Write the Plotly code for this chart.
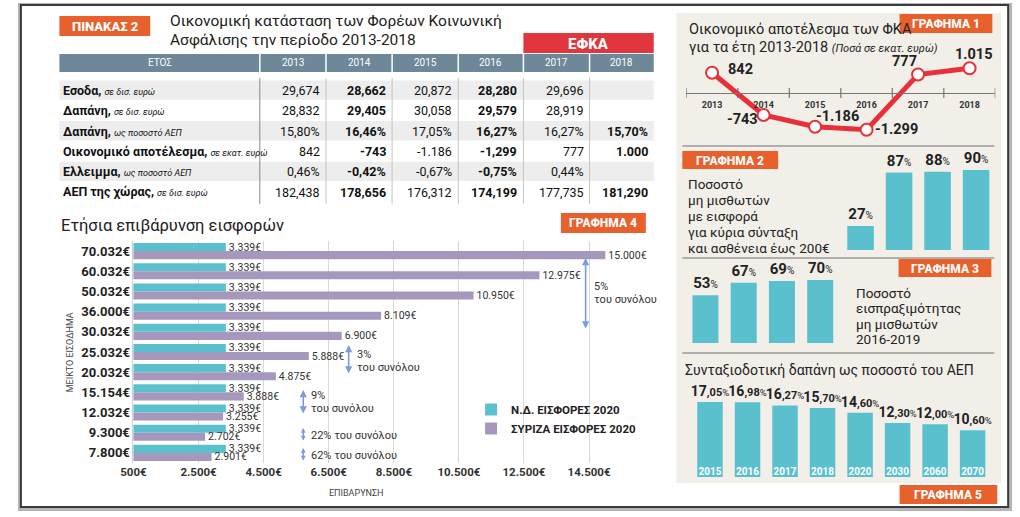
import plotly.graph_objects as go

W, H = 1020, 517
FONT = "Roboto"

# ---------------- DATA ----------------
table_years = ["2013", "2014", "2015", "2016", "2017", "2018"]
bold_years = ["2014", "2016", "2018"]
row_titles = ["Εσοδα,", "Δαπάνη,", "Δαπάνη,", "Οικονομικό αποτέλεσμα,", "Ελλειμμα,", "ΑΕΠ της χώρας,"]
row_units = ["σε δισ. ευρώ", "σε δισ. ευρώ", "ως ποσοστό ΑΕΠ", "σε εκατ. ευρώ", "ως ποσοστό ΑΕΠ", "σε δισ. ευρώ"]
row_esoda = ["29,674", "28,662", "20,872", "28,280", "29,696", ""]
row_dapani = ["28,832", "29,405", "30,058", "29,579", "28,919", ""]
row_dapani_aep = ["15,80%", "16,46%", "17,05%", "16,27%", "16,27%", "15,70%"]
row_apotelesma = ["842", "-743", "-1.186", "-1,299", "777", "1.000"]
row_elleimma = ["0,46%", "-0,42%", "-0,67%", "-0,75%", "0,44%", ""]
row_aep = ["182,438", "178,656", "176,312", "174,199", "177,735", "181,290"]

income_cats = ["70.032€", "60.032€", "50.032€", "36.000€", "30.032€", "25.032€",
               "20.032€", "15.154€", "12.032€", "9.300€", "7.800€"]
nd_values = [3339, 3339, 3339, 3339, 3339, 3339, 3339, 3339, 3339, 3339, 3339]
syriza_values = [15000, 12975, 10950, 8109, 6900, 5888, 4875, 3888, 3255, 2702, 2901]
g4_ticks = [500, 2500, 4500, 6500, 8500, 10500, 12500, 14500]

g1_years = [2013, 2014, 2015, 2016, 2017, 2018]
g1_values = [842, -743, -1186, -1299, 777, 1015]
g1_labels = ["842", "-743", "-1.186", "-1.299", "777", "1.015"]

g2_cats = ["2016", "2017", "2018", "2019"]
g2_values = [27, 87, 88, 90]
g3_cats = ["2016", "2017", "2018", "2019"]
g3_values = [53, 67, 69, 70]

g5_years = ["2015", "2016", "2017", "2018", "2020", "2030", "2060", "2070"]
g5_values = [17.05, 16.98, 16.27, 15.70, 14.60, 12.30, 12.00, 10.60]

# ---------------- COLOURS ----------------
ORANGE = "#E8612C"
RED = "#E2363F"
HEAD = "#6E8799"
TEAL = "#5BC0CE"
PURPLE = "#A698BC"
BEIGE = "#F2EFE9"
LINE_RED = "#E8303A"
ARROW = "#7D9BDB"


def X(px):
    return px / W


def Y(py):
    return 1 - py / H


shapes = []
annotations = []


def rect(x0, y0, x1, y1, fill, line=None, lw=0):
    shapes.append(dict(type="rect", xref="paper", yref="paper", layer="below",
                       x0=X(x0), x1=X(x1), y0=Y(y1), y1=Y(y0), fillcolor=fill,
                       line=dict(width=lw, color=line or fill)))


def hline(x0, x1, y, color, lw=1):
    shapes.append(dict(type="line", xref="paper", yref="paper", layer="below",
                       x0=X(x0), x1=X(x1), y0=Y(y), y1=Y(y), line=dict(color=color, width=lw)))


def vline(x, y0, y1, color, lw=1):
    shapes.append(dict(type="line", xref="paper", yref="paper", layer="below",
                       x0=X(x), x1=X(x), y0=Y(y0), y1=Y(y1), line=dict(color=color, width=lw)))


def text(px, py, s, size=12, color="#222", xanchor="left", weight=None, angle=0):
    f = dict(size=size, color=color, family=FONT)
    if weight:
        f["weight"] = weight
    annotations.append(dict(xref="paper", yref="paper", x=X(px), y=Y(py), text=s,
                            showarrow=False, xanchor=xanchor, yanchor="middle",
                            font=f, textangle=angle, borderpad=0))


def badge(x0, y0, x1, y1, label, fill=ORANGE, size=12):
    rect(x0, y0, x1, y1, fill)
    text((x0 + x1) / 2, (y0 + y1) / 2 + 0.5, label, size=size, color="white",
         xanchor="center", weight=800)


def darrow(x, y_top, y_bot, size=0.9):
    annotations.append(dict(xref="paper", yref="paper", x=X(x), y=Y(y_top), ax=0,
                            ay=y_bot - y_top, text="", showarrow=True, arrowhead=2,
                            arrowside="end+start", arrowsize=size, arrowwidth=1.6,
                            arrowcolor=ARROW, standoff=0, startstandoff=0))


# ---------------- FRAME ----------------
rect(5, 3, 1012, 511, "#B5B5B5")
rect(8, 5, 1008, 507, "white", line="#3A3A3A", lw=2)

# ---------------- TABLE ----------------
badge(47, 16, 139, 36, "ΠΙΝΑΚΑΣ 2", size=13)
text(158, 21, "Οικονομική κατάσταση των Φορέων Κοινωνική", size=15.5)
text(158, 40, "Ασφάλισης την περίοδο 2013-2018", size=15.5)
badge(517, 33, 649, 53, "ΕΦΚΑ", fill=RED, size=15)

col_edges = [47, 250, 317, 384, 451, 517, 584, 649]
rect(col_edges[0], 54, col_edges[-1], 72, HEAD)
text((col_edges[0] + col_edges[1]) / 2, 63, "ΕΤΟΣ", size=10, color="white", xanchor="center")
for i, yr in enumerate(table_years):
    text((col_edges[i + 1] + col_edges[i + 2]) / 2, 63, yr, size=10, color="white", xanchor="center")
for xe in col_edges[1:-1]:
    vline(xe, 54, 72, "white", 1.5)

rows = [row_esoda, row_dapani, row_dapani_aep, row_apotelesma, row_elleimma, row_aep]
row_top = 80
row_h = 20.3
for r, vals in enumerate(rows):
    y0 = row_top + r * row_h
    yc = y0 + row_h / 2 + 0.5
    if r % 2 == 0:
        rect(col_edges[0], y0 + 0.5, col_edges[-1], y0 + row_h - 0.5, "#EDEDED")
    text(50, yc, f"<b>{row_titles[r]}</b> <i><span style='font-size:9px'>{row_units[r]}</span></i>",
         size=12.5, color="#111")
    for i, v in enumerate(vals):
        if not v:
            continue
        s = f"<b>{v}</b>" if table_years[i] in bold_years else v
        text(col_edges[i + 2] - 5, yc, s, size=12.5, color="#111", xanchor="right")
vline(col_edges[1], 78, 204, "#8A8A8A", 1)
for xe in col_edges[2:-1]:
    vline(xe, 78, 204, "#C4C4C4", 1)

# ---------------- GRAPH 4 ----------------
text(48, 225, "Ετήσια επιβάρυνση εισφορών", size=16.5)
badge(555, 213, 641, 233, "ΓΡΑΦΗΜΑ 4")
text(58, 352, "ΜΕΙΚΤΟ ΕΙΣΟΔΗΜΑ", size=9, color="#444", xanchor="center", angle=-90)
text(348, 493, "ΕΠΙΒΑΡΥΝΣΗ", size=9, color="#444", xanchor="center")


def eur(v):
    return f"{v:,}".replace(",", ".") + "€"


darrow(580, 258, 330)
text(587, 286, "5%", size=11, color="#333")
text(587, 299, "του συνόλου", size=11, color="#333")
darrow(340, 345, 375)
text(347, 354, "3%", size=11, color="#333")
text(347, 367, "του συνόλου", size=11, color="#333")
darrow(294, 390, 415)
text(301, 395, "9%", size=11, color="#333")
text(301, 408, "του συνόλου", size=11, color="#333")
darrow(294, 428, 442, size=0.6)
text(301, 435, "22% του συνόλου", size=11, color="#333")
darrow(294, 448, 462, size=0.6)
text(301, 455, "62% του συνόλου", size=11, color="#333")

# ---------------- RIGHT PANEL ----------------
rect(672, 13, 1001, 483, BEIGE)
hline(678, 994, 146, "#9A9A9A", 1.5)
hline(678, 994, 258, "#9A9A9A", 1.5)
hline(678, 994, 353, "#9A9A9A", 1.5)

badge(898, 14, 992, 33, "ΓΡΑΦΗΜΑ 1")
text(684, 29, "Οικονομικό αποτέλεσμα των ΦΚΑ", size=14.5)
text(684, 47, "για τα έτη 2013-2018 <i><span style='font-size:11px'>(Ποσά σε εκατ. ευρώ)</span></i>", size=14.5)

badge(678, 151, 775, 169, "ΓΡΑΦΗΜΑ 2")
for k, ln in enumerate(["Ποσοστό", "μη μισθωτών", "με εισφορά", "για κύρια σύνταξη", "και ασθένεια έως 200€"]):
    text(683, 184 + k * 16, ln, size=13.5)

badge(897, 259, 991, 277, "ΓΡΑΦΗΜΑ 3")
for k, ln in enumerate(["Ποσοστό", "εισπραξιμότητας", "μη μισθωτών", "2016-2019"]):
    text(853, 293 + k * 15.3, ln, size=13.5)

text(680, 370, "Συνταξιοδοτική δαπάνη ως ποσοστό του ΑΕΠ", size=14)
badge(898, 485, 997, 504, "ΓΡΑΦΗΜΑ 5")

# ---------------- FIGURE ----------------
fig = go.Figure()

# Graph 4 bars
fig.add_trace(go.Bar(y=income_cats, x=nd_values, orientation="h", name="Ν.Δ. ΕΙΣΦΟΡΕΣ 2020",
                     marker=dict(color=TEAL, line=dict(width=0)),
                     text=[eur(v) for v in nd_values], textposition="outside",
                     constraintext="none", cliponaxis=False,
                     textfont=dict(size=10.5, color="#333", family=FONT),
                     xaxis="x", yaxis="y"))
fig.add_trace(go.Bar(y=income_cats, x=syriza_values, orientation="h", name="ΣΥΡΙΖΑ ΕΙΣΦΟΡΕΣ 2020",
                     marker=dict(color=PURPLE, line=dict(width=0)),
                     text=[eur(v) for v in syriza_values], textposition="outside",
                     constraintext="none", cliponaxis=False,
                     textfont=dict(size=10.5, color="#333", family=FONT),
                     xaxis="x", yaxis="y"))

# Graph 1 line
fig.add_trace(go.Scatter(x=g1_years, y=g1_values, mode="lines+markers",
                         line=dict(color=LINE_RED, width=5),
                         marker=dict(size=12, color="white", line=dict(color=LINE_RED, width=2)),
                         cliponaxis=False, showlegend=False, xaxis="x2", yaxis="y2"))
g1_shift = [(28, 3), (-21, -5), (22, 10), (30, 0), (-14, 13), (4, 14)]
for yr, v, lab, (dx, dy) in zip(g1_years, g1_values, g1_labels, g1_shift):
    annotations.append(dict(xref="x2", yref="y2", x=yr, y=v, text=lab, showarrow=False,
                            xshift=dx, yshift=dy, xanchor="center", yanchor="middle",
                            font=dict(size=14.5, color="#222", family=FONT, weight=700)))


def pct_big(v):
    return f"<b>{v}</b><span style='font-size:10px'>%</span>"


# Graph 2 bars
fig.add_trace(go.Bar(x=g2_cats, y=g2_values, width=0.69, marker=dict(color=TEAL, line=dict(width=0)),
                     text=[pct_big(v) for v in g2_values], textposition="outside",
                     constraintext="none", cliponaxis=False,
                     textfont=dict(size=15, color="#222", family=FONT),
                     showlegend=False, xaxis="x3", yaxis="y3"))
# Graph 3 bars
fig.add_trace(go.Bar(x=g3_cats, y=g3_values, width=0.68, marker=dict(color=TEAL, line=dict(width=0)),
                     text=[pct_big(v) for v in g3_values], textposition="outside",
                     constraintext="none", cliponaxis=False,
                     textfont=dict(size=15, color="#222", family=FONT),
                     showlegend=False, xaxis="x4", yaxis="y4"))


def pct5(v):
    s = f"{v:.2f}".replace(".", ",")
    a, b = s.split(",")
    return f"<b>{a}<span style='font-size:11px'>,{b}</span></b><span style='font-size:9.5px'>%</span>"


# Graph 5 bars
fig.add_trace(go.Bar(x=g5_years, y=g5_values, width=0.68, marker=dict(color=TEAL, line=dict(width=0)),
                     text=[pct5(v) for v in g5_values], textposition="outside",
                     constraintext="none", cliponaxis=False,
                     textfont=dict(size=14, color="#222", family=FONT),
                     showlegend=False, xaxis="x5", yaxis="y5"))
fig.add_trace(go.Scatter(x=g5_years, y=[0] * len(g5_years), mode="text", text=g5_years,
                         textposition="top center",
                         textfont=dict(size=10, color="white", family=FONT, weight=700),
                         showlegend=False, cliponaxis=False, xaxis="x5", yaxis="y5"))

# ---------------- AXES ----------------
def dom_x(a, b):
    return [X(a), X(b)]


def dom_y(top, bot):
    return [Y(bot), Y(top)]


g4_px_per = (600 - 122) / (15000 - 500)
g4_max = 16000
g4_right = 122 + (g4_max - 500) * g4_px_per

g1_range = [-1600, 1400]
g1_zero_px = 95.2
g1_scale = 0.0266
g1_top = g1_zero_px - g1_range[1] * g1_scale
g1_bot = g1_zero_px - g1_range[0] * g1_scale
g1_axis_px = 93

for half in [y - 0.5 for y in g1_years] + [g1_years[-1] + 0.5]:
    shapes.append(dict(type="line", xref="x2", yref="paper", x0=half, x1=half,
                       y0=Y(g1_axis_px + 5), y1=Y(g1_axis_px - 5),
                       line=dict(color="#777", width=1.2), layer="below"))

fig.update_layout(
    width=W, height=H, margin=dict(l=0, r=0, t=0, b=0),
    paper_bgcolor="white", plot_bgcolor="rgba(0,0,0,0)",
    font=dict(family=FONT, color="#222"),
    barmode="group", bargap=0.2, bargroupgap=0,
    shapes=shapes, annotations=annotations,
    showlegend=True,
    legend=dict(x=X(464), y=Y(395), xanchor="left", yanchor="top", bgcolor="rgba(0,0,0,0)",
                font=dict(size=11.5, color="#222", family=FONT, weight=700),
                itemwidth=30, tracegroupgap=2),
    xaxis=dict(domain=dom_x(122, g4_right), range=[500, g4_max], tickvals=g4_ticks,
               ticktext=[eur(v) for v in g4_ticks], showgrid=True, gridcolor="#D9D9D9",
               gridwidth=1, zeroline=False, showline=False, ticks="",
               tickfont=dict(size=11.5, color="#333", weight=700), anchor="y", fixedrange=True),
    yaxis=dict(domain=dom_y(241, 463), type="category", autorange="reversed",
               showgrid=False, zeroline=False, showline=True, linecolor="#CFCFCF",
               ticks="", tickfont=dict(size=13, color="#222", weight=700), anchor="x"),
    xaxis2=dict(domain=dom_x(682, 995), range=[g1_years[0] - 0.5, g1_years[-1] + 0.5],
                tickvals=g1_years, ticktext=[str(y) for y in g1_years],
                anchor="free", position=Y(g1_axis_px), showline=True, linecolor="#777",
                linewidth=1.2, showgrid=False, zeroline=False, ticks="outside", ticklen=3,
                tickcolor="rgba(0,0,0,0)", tickfont=dict(size=9, color="#333", weight=700)),
    yaxis2=dict(domain=dom_y(g1_top, g1_bot), range=g1_range, visible=False, anchor="x2"),
    xaxis3=dict(domain=dom_x(839, 995), type="category", visible=False, anchor="y3"),
    yaxis3=dict(domain=dom_y(161, 250), range=[0, 100], visible=False, anchor="x3"),
    xaxis4=dict(domain=dom_x(682, 837), type="category", visible=False, anchor="y4"),
    yaxis4=dict(domain=dom_y(253, 343), range=[0, 100], visible=False, anchor="x4"),
    xaxis5=dict(domain=dom_x(687, 991), type="category", visible=False, anchor="y5"),
    yaxis5=dict(domain=dom_y(389, 477), range=[0, 20], visible=False, anchor="x5"),
)

fig.write_html("out.html")
